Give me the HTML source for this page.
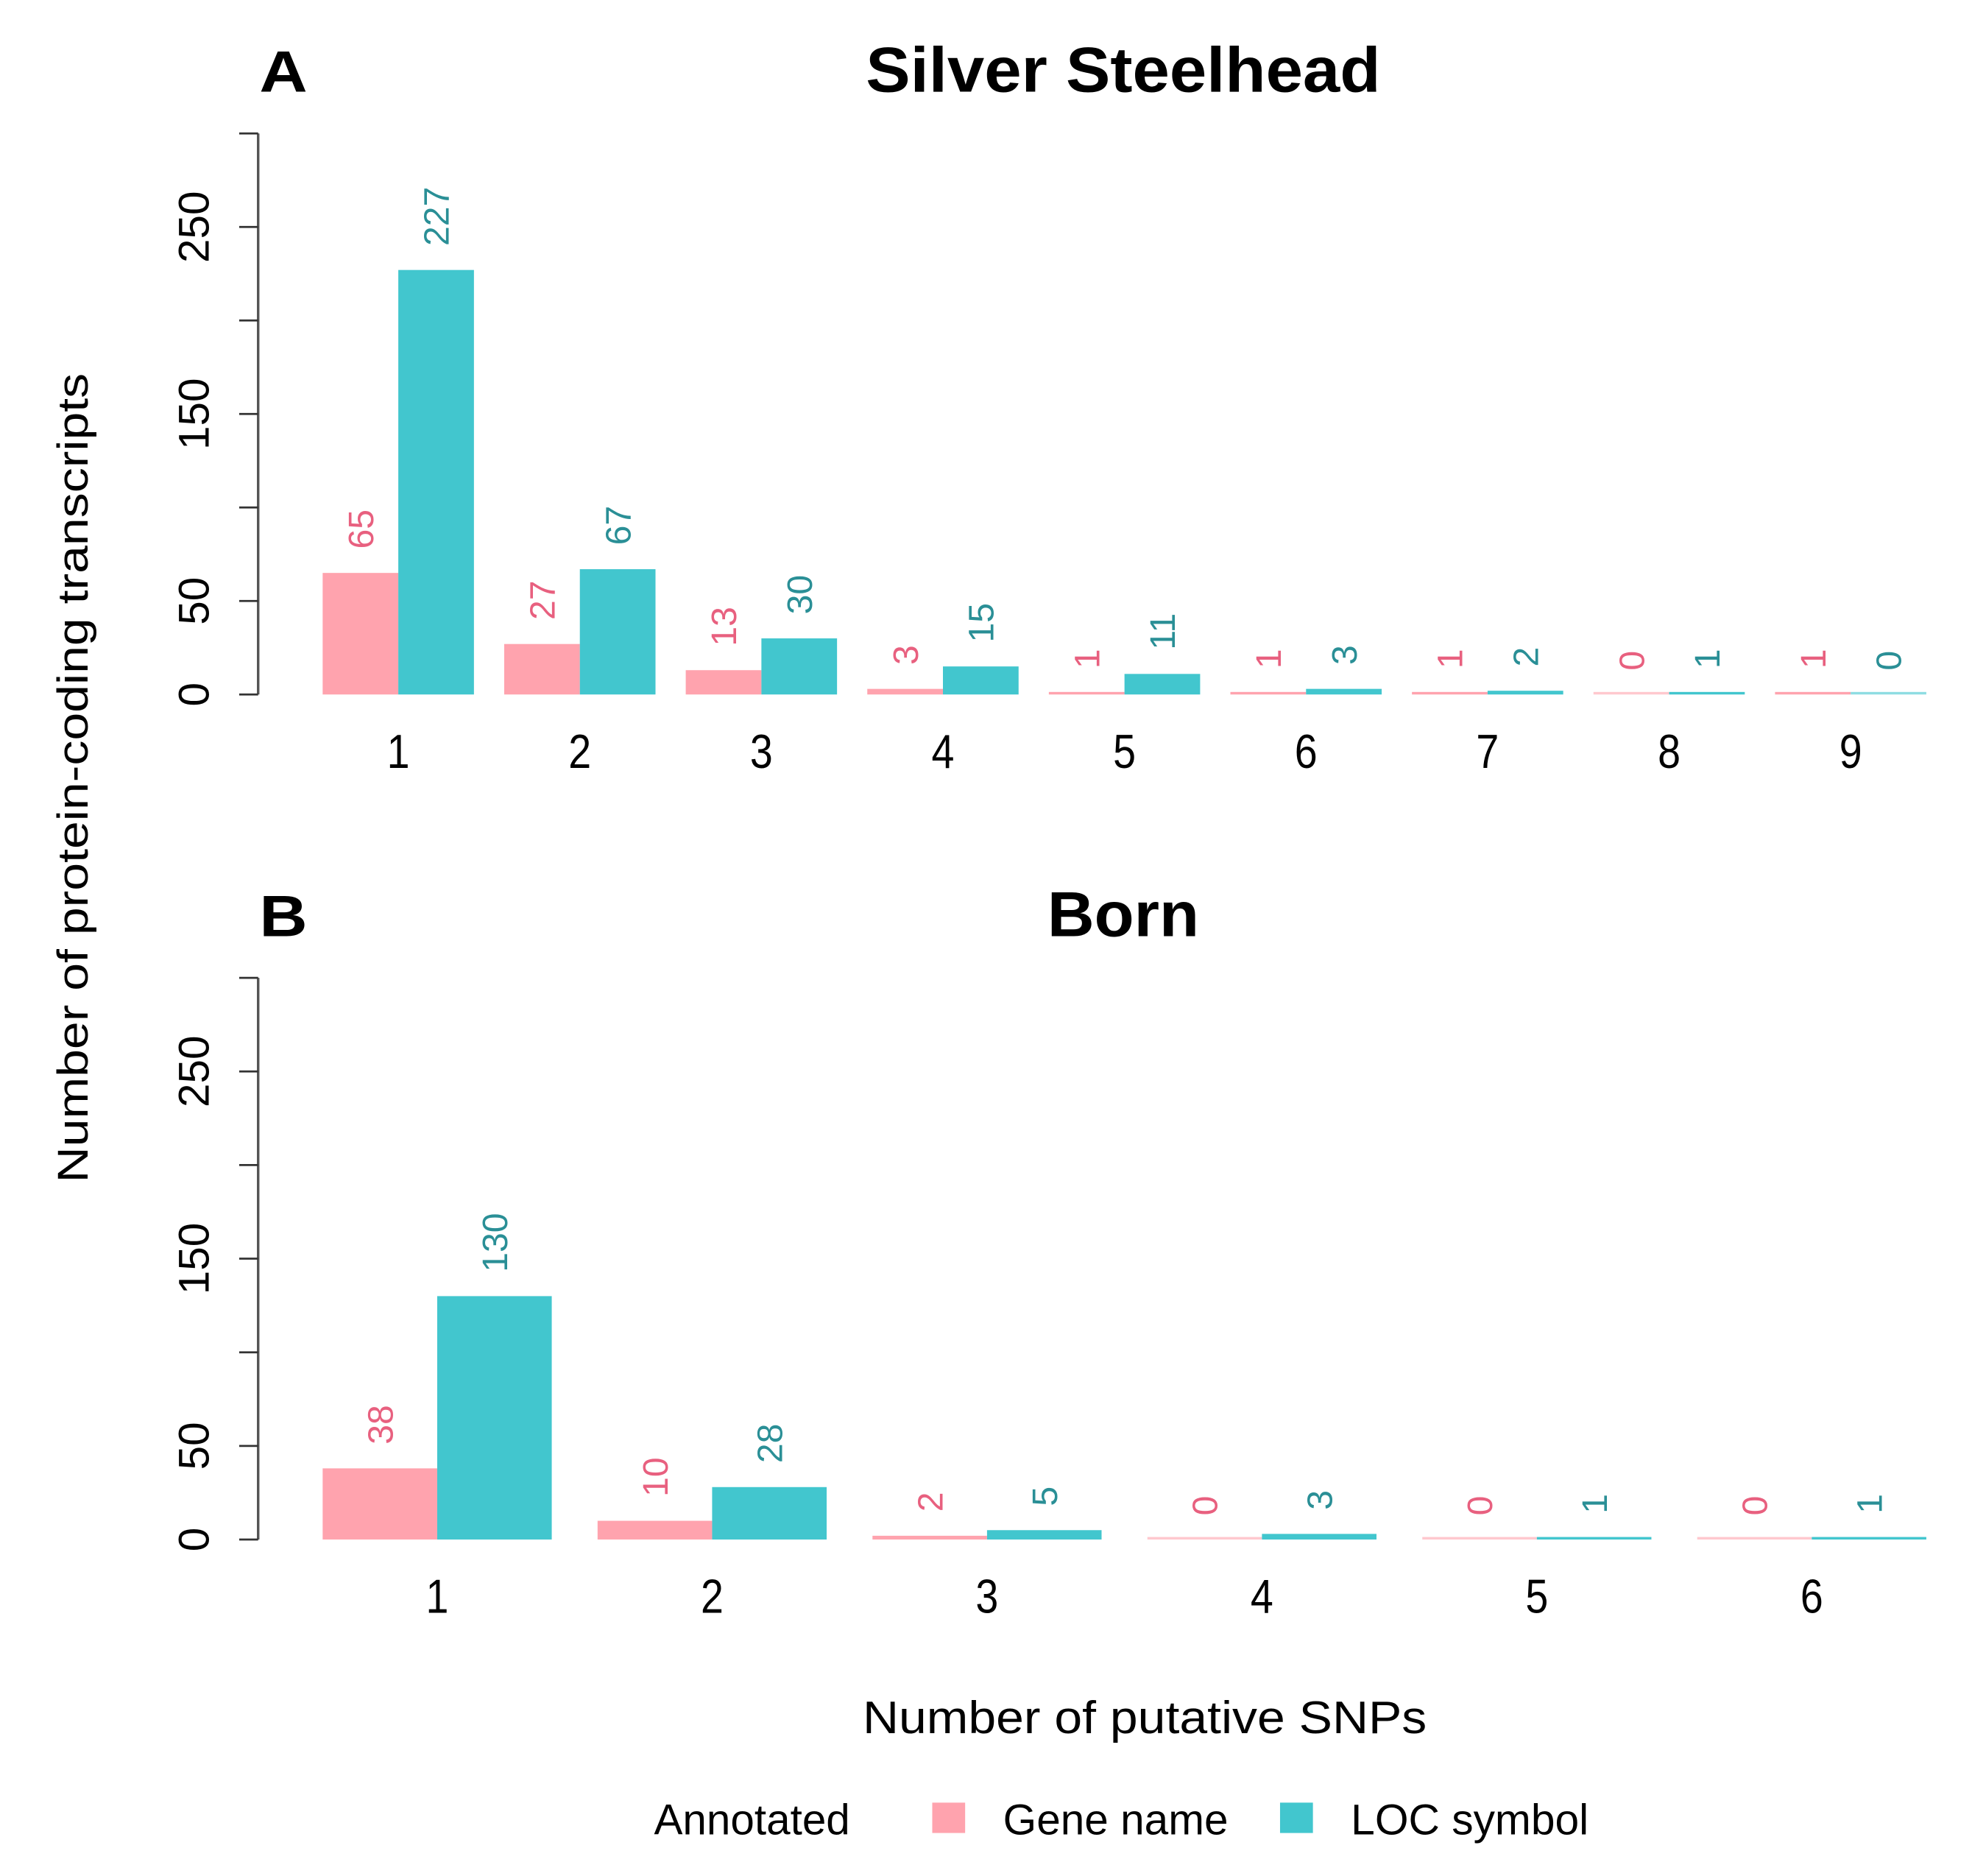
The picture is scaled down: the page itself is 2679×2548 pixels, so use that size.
<!DOCTYPE html>
<html><head><meta charset="utf-8"><style>
html,body{margin:0;padding:0;background:#fff}
svg{display:block}
text{font-family:"Liberation Sans",Arial,sans-serif}
</style></head>
<body>
<svg id="chart" xmlns="http://www.w3.org/2000/svg" width="2679" height="2548" viewBox="0 0 1559 1483">
<rect x="0" y="0" width="1559" height="1483" fill="#fff"/>
<g id="panelA"></g>
<g id="panelB"></g>
<text x="0" y="0" transform="translate(69,615) rotate(-90)" text-anchor="middle" font-size="34" textLength="640" lengthAdjust="spacingAndGlyphs" fill="#000">Number of protein-coding transcripts</text>
<text x="905" y="1370" text-anchor="middle" font-size="36" textLength="446" lengthAdjust="spacingAndGlyphs" fill="#000">Number of putative SNPs</text>
<g>
<text x="517" y="1450" font-size="34" textLength="155" lengthAdjust="spacingAndGlyphs">Annotated</text>
<rect x="737" y="1425" width="26" height="24" fill="#FFA3AE"/>
<text x="793" y="1450" font-size="34" textLength="178" lengthAdjust="spacingAndGlyphs">Gene name</text>
<rect x="1012" y="1425" width="26" height="24" fill="#42C6CE"/>
<text x="1068" y="1450" font-size="34" textLength="188" lengthAdjust="spacingAndGlyphs">LOC symbol</text>
</g>
</svg>
<script>
const categoriesA = [1,2,3,4,5,6,7,8,9];
const geneA = [65,27,13,3,1,1,1,0,1];
const locA = [227,67,30,15,11,3,2,1,0];
const categoriesB = [1,2,3,4,5,6];
const geneB = [38,10,2,0,0,0];
const locB = [130,28,5,3,1,1];
const yTicks = [0,50,100,150,200,250,300];
const yTickLabels = ['0','50','','150','','250',''];

const NS = 'http://www.w3.org/2000/svg';
function mk(tag, attrs, parent){
  const e = document.createElementNS(NS, tag);
  for (const k in attrs) e.setAttribute(k, attrs[k]);
  parent.appendChild(e);
  return e;
}
function drawPanel(g, letter, title, titleLen, cats, gene, loc, top, zero){
  const plotL = 255, plotR = 1523;
  const yScale = v => zero - v * (zero - top) / 300;
  const n = cats.length;
  const unit = (plotR - plotL) / (n * 2.4 - 0.4);
  const xGroup = i => plotL + i * unit * 2.4;

  const lt = mk('text', {x: 205, y: top - 33, 'font-size': 46, 'font-weight': 'bold', textLength: 38, lengthAdjust: 'spacingAndGlyphs'}, g);
  
  
  lt.textContent = letter;
  const tt = mk('text', {x: 888, y: top - 33, 'font-size': 50, 'font-weight': 'bold', 'text-anchor': 'middle', textLength: titleLen, lengthAdjust: 'spacingAndGlyphs'}, g);
  
  
  tt.textContent = title;

  const ax = mk('line', {x1: 204, y1: yScale(0), x2: 204, y2: yScale(300), stroke: '#555', 'stroke-width': 2}, g);
  
  
  yTicks.forEach((t, i) => {
    const tk = mk('line', {x1: 189, y1: yScale(t), x2: 204, y2: yScale(t), stroke: '#333', 'stroke-width': 1.6}, g);
    
    
    if (yTickLabels[i]) {
      const tl = mk('text', {x: 0, y: 0, transform: `translate(165,${yScale(t)}) rotate(-90)`, 'text-anchor': 'middle', 'font-size': 34}, g);
      
      
      tl.textContent = yTickLabels[i];
    }
  });

  cats.forEach((c, i) => {
    const x0 = xGroup(i);
    [[gene[i], '#FFA3AE', '#E8607F', 'gene'], [loc[i], '#42C6CE', '#2A8F96', 'loc']].forEach((s, j) => {
      const v = s[0];
      const bx = x0 + j * unit;
      const y = yScale(v);
      const h = Math.max(zero - y, 2);
      const r = mk('rect', {x: bx, y: zero - h, width: unit, height: h, fill: s[1], opacity: v === 0 ? 0.6 : 1}, g);
      
      
      const vt = mk('text', {x: 0, y: 0, transform: `translate(${bx + unit / 2 + 10},${y - 19}) rotate(-90)`, 'font-size': 28, fill: s[2]}, g);
      
      
      vt.textContent = v;
    });
    const xl = mk('text', {x: x0 + unit, y: zero + 58, 'text-anchor': 'middle', 'font-size': 38, textLength: 18, lengthAdjust: 'spacingAndGlyphs'}, g);
    
    
    xl.textContent = c;
  });
}
drawPanel(document.getElementById('panelA'), 'A', 'Silver Steelhead', 407, categoriesA, geneA, locA, 105.5, 549);
drawPanel(document.getElementById('panelB'), 'B', 'Born', 120, categoriesB, geneB, locB, 773, 1217);
</script>
</body></html>
